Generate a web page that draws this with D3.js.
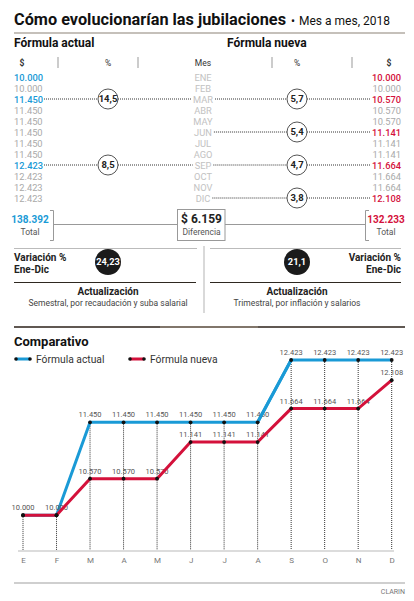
<!DOCTYPE html>
<html><head><meta charset="utf-8">
<script src="https://cdn.jsdelivr.net/npm/d3@7"></script>
<style>
html,body{margin:0;padding:0;background:#fff;}
svg{display:block;font-family:Roboto,"Noto Sans",sans-serif;}
</style></head>
<body>
<svg id="c" width="414" height="601"></svg>
<script>
// ---- data ----
const months = ["ENE","FEB","MAR","ABR","MAY","JUN","JUL","AGO","SEP","OCT","NOV","DIC"];
const monthInitials = ["E","F","M","A","M","J","J","A","S","O","N","D"];
const actual = [10000,10000,11450,11450,11450,11450,11450,11450,12423,12423,12423,12423];
const nueva = [10000,10000,10570,10570,10570,11141,11141,11141,11664,11664,11664,12108];
const actualPct = [null,null,"14,5",null,null,null,null,null,"8,5",null,null,null];
const nuevaPct = [null,null,"5,7",null,null,"5,4",null,null,"4,7",null,null,"3,8"];
const totals = {actual:138392, nueva:132233, diferencia:6159};
const variacion = {actual:"24,23", nueva:"21,1"};
const actualizacion = ["Semestral, por recaudación y suba salarial","Trimestral, por inflación y salarios"];
const seriesNames = ["Fórmula actual","Fórmula nueva"];

const BLUE="#1a9ad6", RED="#d4113b", GRAY="#a9a9a9", MONTH="#c2c2c2", DARK="#222";
const loc = d3.formatLocale({decimal:",",thousands:".",grouping:[3],currency:["$",""]});
const fmt = loc.format(",d");

const svg = d3.select("#c");

// ---- title ----
svg.append("text").attr("x",14).attr("y",25).text("Cómo evolucionarían las jubilaciones")
  .attr("font-size",16.5).attr("font-weight",700).attr("fill","#111").attr("textLength",272).attr("lengthAdjust","spacingAndGlyphs");
svg.append("text").attr("x",293).attr("y",25).attr("text-anchor","middle").text("•").attr("font-size",12).attr("fill","#111");
svg.append("text").attr("x",299).attr("y",25).text("Mes a mes, 2018").attr("font-size",13).attr("fill","#111")
  .attr("textLength",91).attr("lengthAdjust","spacingAndGlyphs");
svg.append("line").attr("x1",14).attr("x2",405).attr("y1",33).attr("y2",33).attr("stroke","#8b8276").attr("stroke-width",1.2);

svg.append("text").attr("x",14).attr("y",47).text(seriesNames[0]).attr("font-size",12).attr("font-weight",700).attr("fill","#111");
svg.append("text").attr("x",227).attr("y",47).text(seriesNames[1]).attr("font-size",12).attr("font-weight",700).attr("fill","#111");

// header row
const hdr = [{x:22,t:"$",b:1},{x:108,t:"%"},{x:203,t:"Mes"},{x:297,t:"%"},{x:389,t:"$",b:1}];
svg.selectAll(".hdr").data(hdr).enter().append("text").attr("x",d=>d.x).attr("y",66)
  .attr("text-anchor","middle").attr("font-size",8.5).attr("font-weight",d=>d.b?700:400).attr("fill","#333").text(d=>d.t);
[58,138,272,352].forEach(x=>svg.append("line").attr("x1",x).attr("x2",x).attr("y1",57).attr("y2",68).attr("stroke","#999").attr("stroke-width",1));

// ---- table ----
const row = d3.scalePoint().domain(months).range([77,198]);
const tbl = svg.append("g");
months.forEach((m,i)=>{
  const y=row(m);
  const hlA = i===0 || actualPct[i]!==null;
  const hlN = i===0 || nuevaPct[i]!==null;
  const ta = tbl.append("text").attr("x",14).attr("y",y+3.5).attr("font-size",9.3).attr("font-weight",hlA?500:400)
    .attr("fill",hlA?BLUE:GRAY).text(fmt(actual[i]));
  const tm = tbl.append("text").attr("x",203).attr("y",y+3.5).attr("text-anchor","middle").attr("font-size",9.3)
    .attr("fill",MONTH).text(m);
  const tn = tbl.append("text").attr("x",401).attr("y",y+3.5).attr("text-anchor","end").attr("font-size",9.3).attr("font-weight",hlN?500:400)
    .attr("fill",hlN?RED:GRAY).text(fmt(nueva[i]));
  const wa = ta.node().getComputedTextLength(), wm = tm.node().getComputedTextLength(), wn = tn.node().getComputedTextLength();
  const dot = (x1,x2)=>tbl.append("line").attr("x1",x1).attr("x2",x2).attr("y1",y).attr("y2",y)
    .attr("stroke","#333").attr("stroke-width",1).attr("stroke-dasharray","1,1");
  const circ = (cx,txt)=>{
    tbl.append("circle").attr("cx",cx).attr("cy",y).attr("r",10).attr("fill","#fff").attr("stroke","#555").attr("stroke-width",1);
    tbl.append("text").attr("x",cx).attr("y",y+3.3).attr("text-anchor","middle").attr("font-size",9.5).attr("font-weight",700).attr("fill",DARK).text(txt);
  };
  if(actualPct[i]!==null){ dot(14+wa+1,98); dot(118,203-wm/2-2); circ(108,actualPct[i]); }
  if(nuevaPct[i]!==null){ dot(203+wm/2+2,287); dot(307,401-wn-1); circ(297,nuevaPct[i]); }
});

// ---- totals ----
const g2 = svg.append("g");
g2.append("text").attr("x",30).attr("y",223).attr("text-anchor","middle").attr("font-size",10).attr("font-weight",700).attr("fill",BLUE).text(fmt(totals.actual));
g2.append("text").attr("x",30).attr("y",235).attr("text-anchor","middle").attr("font-size",8.5).attr("fill","#555").text("Total");
g2.append("text").attr("x",386).attr("y",223).attr("text-anchor","middle").attr("font-size",10).attr("font-weight",700).attr("fill",RED).text(fmt(totals.nueva));
g2.append("text").attr("x",386).attr("y",235).attr("text-anchor","middle").attr("font-size",8.5).attr("fill","#555").text("Total");
g2.append("path").attr("d","M50,210.5H53.5V240.5H50").attr("fill","none").attr("stroke","#999").attr("stroke-width",1);
g2.append("path").attr("d","M369,210.5H365.5V240.5H369").attr("fill","none").attr("stroke","#999").attr("stroke-width",1);
g2.append("line").attr("x1",53.5).attr("x2",178).attr("y1",224.5).attr("y2",224.5).attr("stroke","#999");
g2.append("line").attr("x1",225).attr("x2",365.5).attr("y1",224.5).attr("y2",224.5).attr("stroke","#999");
g2.append("rect").attr("x",177.5).attr("y",209.5).attr("width",47.5).attr("height",31).attr("fill","#fff").attr("stroke","#999");
g2.append("text").attr("x",201.5).attr("y",223).attr("text-anchor","middle").attr("font-size",12).attr("font-weight",700).attr("fill",DARK).text(loc.format("$,d")(totals.diferencia).replace("$","$ "));
g2.append("text").attr("x",201.5).attr("y",235).attr("text-anchor","middle").attr("font-size",8.5).attr("fill","#555").text("Diferencia");

// ---- variación ----
const g3 = svg.append("g");
g3.append("line").attr("x1",14).attr("x2",197).attr("y1",248.5).attr("y2",248.5).attr("stroke","#bbb");
g3.append("line").attr("x1",210).attr("x2",401).attr("y1",248.5).attr("y2",248.5).attr("stroke","#bbb");
g3.append("line").attr("x1",204).attr("x2",204).attr("y1",246).attr("y2",313).attr("stroke","#ccc").attr("stroke-width",1.5);
g3.append("text").attr("x",14).attr("y",261).attr("font-size",10).attr("font-weight",700).attr("fill",DARK).text("Variación %");
g3.append("text").attr("x",14).attr("y",273).attr("font-size",10).attr("font-weight",700).attr("fill",DARK).text("Ene-Dic");
g3.append("text").attr("x",401).attr("y",261).attr("text-anchor","end").attr("font-size",10).attr("font-weight",700).attr("fill",DARK).text("Variación %");
g3.append("text").attr("x",401).attr("y",273).attr("text-anchor","end").attr("font-size",10).attr("font-weight",700).attr("fill",DARK).text("Ene-Dic");
[[108,variacion.actual],[297,variacion.nueva]].forEach(([cx,v])=>{
  g3.append("circle").attr("cx",cx).attr("cy",262).attr("r",13).attr("fill","#1b1b1b");
  g3.append("text").attr("x",cx).attr("y",265.3).attr("text-anchor","middle").attr("font-size",9.3).attr("font-weight",700).attr("fill","#fff").text(v);
});
g3.append("line").attr("x1",14).attr("x2",196).attr("y1",282.5).attr("y2",282.5).attr("stroke","#2e2820");
g3.append("line").attr("x1",210).attr("x2",401).attr("y1",282.5).attr("y2",282.5).attr("stroke","#2e2820");
[[108,actualizacion[0]],[297,actualizacion[1]]].forEach(([cx,s])=>{
  g3.append("text").attr("x",cx).attr("y",295).attr("text-anchor","middle").attr("font-size",10).attr("font-weight",700).attr("fill",DARK).text("Actualización");
  g3.append("text").attr("x",cx).attr("y",306).attr("text-anchor","middle").attr("font-size",8.5).attr("fill","#444").text(s);
});

// ---- section divider ----
svg.append("line").attr("x1",14).attr("x2",405).attr("y1",327).attr("y2",327).attr("stroke","#2b2118").attr("stroke-width",1.5);
svg.append("line").attr("x1",160).attr("x2",258).attr("y1",327).attr("y2",327).attr("stroke","#8c8174").attr("stroke-width",1.5);

// ---- Comparativo ----
svg.append("text").attr("x",14).attr("y",346).attr("font-size",13).attr("font-weight",700).attr("fill","#111").text("Comparativo");
const legend = [{x:16,c:BLUE,t:seriesNames[0]},{x:130,c:RED,t:seriesNames[1]}];
legend.forEach(l=>{
  svg.append("line").attr("x1",l.x).attr("x2",l.x+14).attr("y1",359).attr("y2",359).attr("stroke",l.c).attr("stroke-width",3);
  [l.x,l.x+14].forEach(cx=>svg.append("circle").attr("cx",cx).attr("cy",359).attr("r",1.8).attr("fill","#111"));
  svg.append("text").attr("x",l.x+20).attr("y",363).attr("font-size",10.3).attr("fill","#333").text(l.t);
});

const idx = d3.range(12);
const x = d3.scalePoint().domain(idx).range([23,391.7]);
const y = d3.scaleLinear().domain([9440,12423]).range([551,360]);

// axis
svg.append("line").attr("x1",18).attr("x2",394).attr("y1",551).attr("y2",551).attr("stroke","#d0d0d0").attr("stroke-width",1.5);
const ax = svg.append("g").attr("transform","translate(0,551)")
  .call(d3.axisBottom(x).tickSize(0).tickPadding(6).tickFormat(i=>monthInitials[i]));
ax.select(".domain").remove();
ax.selectAll("text").attr("font-size",8).attr("fill","#777").attr("font-family","Roboto,sans-serif");

// dotted verticals
svg.selectAll(".vd").data(idx).enter().append("line")
  .attr("x1",i=>x(i)).attr("x2",i=>x(i)).attr("y1",i=>y(Math.max(actual[i],nueva[i]))).attr("y2",550)
  .attr("stroke","#333").attr("stroke-width",1).attr("stroke-dasharray","1,1");

const line = d3.line().x((d,i)=>x(i)).y(d=>y(d));
svg.append("path").datum(actual).attr("d",line).attr("fill","none").attr("stroke",BLUE).attr("stroke-width",3);

// labels
svg.selectAll(".la").data(actual).enter().append("text").attr("x",(d,i)=>x(i)).attr("y",d=>y(d)-5)
  .attr("text-anchor","middle").attr("font-size",7.5).attr("fill","#555").text(d=>fmt(d));
svg.selectAll(".ln").data(nueva.map((d,i)=>({d,i})).filter(o=>o.d!==actual[o.i])).enter().append("text")
  .attr("x",o=>x(o.i)).attr("y",o=>y(o.d)-5).attr("text-anchor","middle").attr("font-size",7.5).attr("fill","#555").text(o=>fmt(o.d));

svg.append("path").datum(nueva).attr("d",line).attr("fill","none").attr("stroke",RED).attr("stroke-width",3);
svg.append("path").datum(actual).attr("d",d3.line().x((d,i)=>x(i)).y(d=>y(d)).defined((d,i)=>i>=7 && i<=8)).attr("fill","none").attr("stroke",BLUE).attr("stroke-width",3);
[actual,nueva].forEach(s=>{
  svg.selectAll(null).data(s).enter().append("circle").attr("cx",(d,i)=>x(i)).attr("cy",d=>y(d)).attr("r",1.9).attr("fill","#111");
});

// footer
svg.append("line").attr("x1",14).attr("x2",405).attr("y1",583).attr("y2",583).attr("stroke","#cfcfcf").attr("stroke-width",2);
svg.append("text").attr("x",405).attr("y",594).attr("text-anchor","end").attr("font-size",7).attr("fill","#777").text("CLARIN");
</script>
</body></html>
